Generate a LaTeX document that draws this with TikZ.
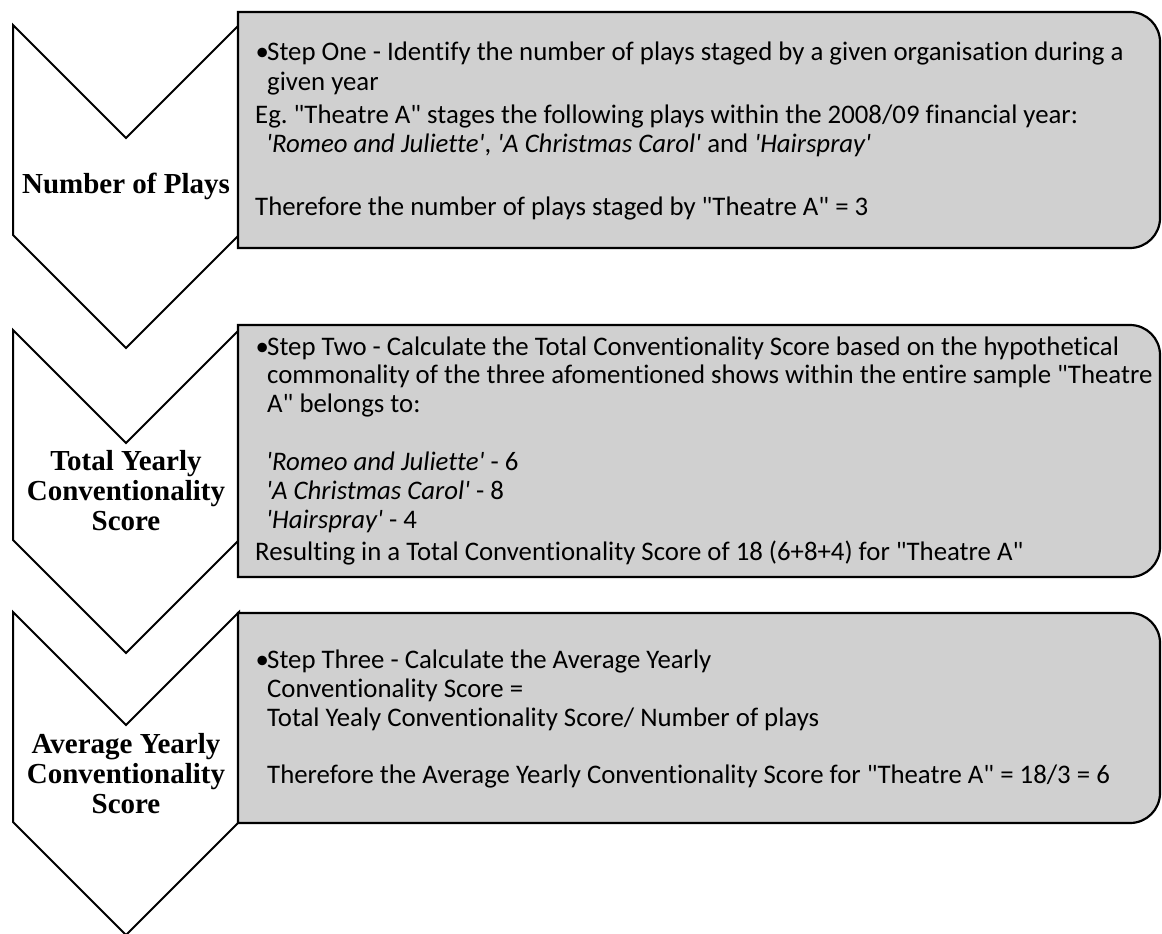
\documentclass[tikz,border=0pt]{standalone}
\usepackage{fontspec}
\setmainfont{Carlito}[Ligatures=NoCommon]
\newfontfamily\tnr{Liberation Serif}
\definecolor{boxgray}{RGB}{208,208,208}
\newcommand{\sq}{\textquotesingle}
\newcommand{\dq}{\textquotedbl}
\frenchspacing
\begin{document}
\begin{tikzpicture}[x=1pt,y=-1pt,
  chev/.style={draw=black,fill=white,line width=2pt,line join=miter},
  stepbox/.style={draw=black,fill=boxgray,line width=2.2pt},
  lab/.style={font=\tnr\bfseries\fontsize{29}{30}\selectfont,align=center,inner sep=0pt},
  txt/.style={font=\frenchspacing\fontsize{26.8}{29}\selectfont,anchor=base west,inner sep=0pt}]
\useasboundingbox (0,0) rectangle (1162,934);
\fill[white] (0,0) rectangle (1162,934);

% chevrons
\draw[chev] (13,25) -- (126,138) -- (239,25) -- (239,235) -- (126,348) -- (13,235) -- cycle;
\draw[chev] (13,330) -- (126,443) -- (239,330) -- (239,540) -- (126,653) -- (13,540) -- cycle;
\draw[chev] (13,612) -- (126,725) -- (239,612) -- (239,822) -- (126,935) -- (13,822) -- cycle;

% boxes
\draw[stepbox] (238,12) -- (1130,12) .. controls (1146.6,12) and (1160,25.4) .. (1160,42)
  -- (1160,218) .. controls (1160,234.6) and (1146.6,248) .. (1130,248) -- (238,248) -- cycle;
\draw[stepbox] (238,325) -- (1130,325) .. controls (1146.6,325) and (1160,338.4) .. (1160,355)
  -- (1160,547) .. controls (1160,563.6) and (1146.6,577) .. (1130,577) -- (238,577) -- cycle;
\draw[stepbox] (238,613) -- (1130,613) .. controls (1146.6,613) and (1160,626.4) .. (1160,643)
  -- (1160,793) .. controls (1160,809.6) and (1146.6,823) .. (1130,823) -- (238,823) -- cycle;

% chevron labels
\node[lab] (l1) at (126,186.5) {Number of Plays};
\node[lab] (l2) at (126,491) {Total Yearly\\Conventionality\\Score};
\node[lab] (l3) at (126,774) {Average Yearly\\Conventionality\\Score};

% box 1 text
\node[txt] (b1) at (255.5,60) {\textbullet};
\node[txt] (a1) at (267,60) {Step One - Identify the number of plays staged by a given organisation during a};
\node[txt] (a2) at (267,90) {given year};
\node[txt] (a3) at (255,123) {Eg.\ \dq Theatre A\dq{} stages the following plays within the 2008/09 financial year:};
\node[txt] (a4) at (266,152) {\textit{\sq Romeo and Juliette\sq}, \textit{\sq A Christmas Carol\sq} and \textit{\sq Hairspray\sq}};
\node[txt] (a5) at (255,215) {Therefore the number of plays staged by \dq Theatre A\dq{} = 3};

% box 2 text
\node[txt] (b2) at (255.5,355) {\textbullet};
\node[txt] (c1) at (267,355) {Step Two - Calculate the Total Conventionality Score based on the hypothetical};
\node[txt] (c2) at (267,383) {commonality of the three afomentioned shows within the entire sample \dq Theatre};
\node[txt] (c3) at (267,412) {A\dq{} belongs to:};
\node[txt] (c4) at (266,470) {\textit{\sq Romeo and Juliette\sq} - 6};
\node[txt] (c5) at (266,499) {\textit{\sq A Christmas Carol\sq} - 8};
\node[txt] (c6) at (266,528) {\textit{\sq Hairspray\sq} - 4};
\node[txt] (c7) at (255,560) {Resulting in a Total Conventionality Score of 18 (6+8+4) for \dq Theatre A\dq};

% box 3 text
\node[txt] (b3) at (255.5,668) {\textbullet};
\node[txt] (d1) at (267,668) {Step Three - Calculate the Average Yearly};
\node[txt] (d2) at (267,697) {Conventionality Score =};
\node[txt] (d3) at (267,726) {Total Yealy Conventionality Score/ Number of plays};
\node[txt] (d4) at (267,783) {Therefore the Average Yearly Conventionality Score for \dq Theatre A\dq{} = 18/3 = 6};
\end{tikzpicture}
\end{document}
